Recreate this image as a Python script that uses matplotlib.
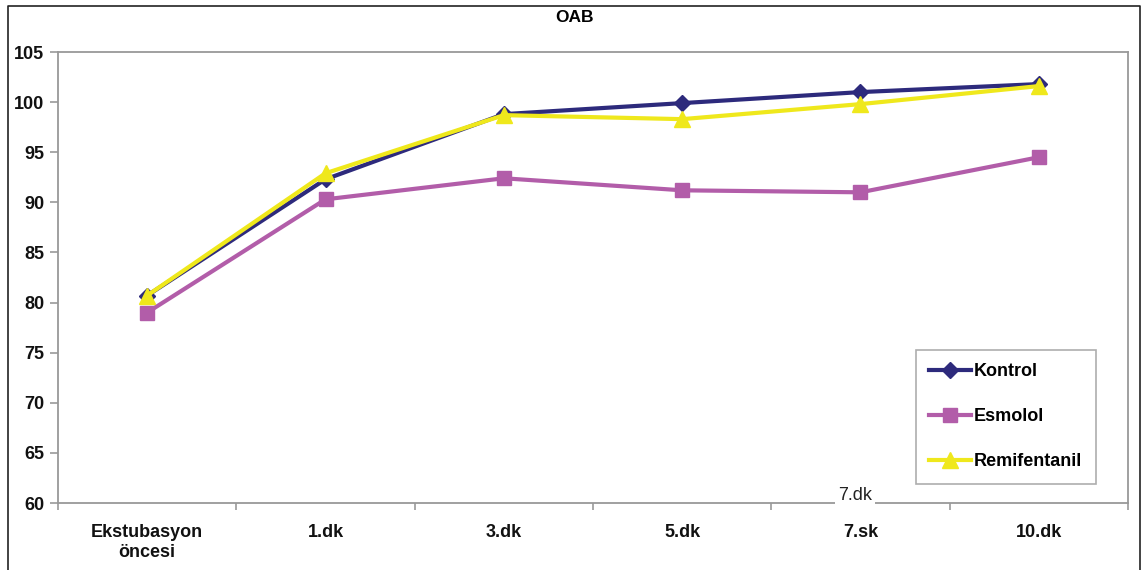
import matplotlib
matplotlib.use("Agg")
import matplotlib.pyplot as plt
from matplotlib.lines import Line2D

plt.rcParams['font.family'] = ['Liberation Sans', 'DejaVu Sans']

categories = ["Ekstubasyon\nöncesi", "1.dk", "3.dk", "5.dk", "7.sk", "10.dk"]
kontrol = [80.7, 92.3, 98.8, 99.9, 101.0, 101.8]
esmolol = [79.0, 90.3, 92.4, 91.2, 91.0, 94.5]
remifentanil = [80.7, 92.9, 98.7, 98.3, 99.8, 101.6]
y_ticks = [60, 65, 70, 75, 80, 85, 90, 95, 100, 105]

W, H = 1147, 570
fig = plt.figure(figsize=(W / 100, H / 100), dpi=100)
ax = fig.add_axes([58 / W, 1 - 503 / H, (1128 - 58) / W, (503 - 52) / H])

x = list(range(len(categories)))
ax.plot(x, kontrol, color="#2D2A7C", lw=3, marker="D", ms=8.5, label="Kontrol", zorder=3)
ax.plot(x, esmolol, color="#B25DA9", lw=3, marker="s", ms=10, label="Esmolol", zorder=3)
ax.plot(x, remifentanil, color="#EFE81C", lw=3, marker="^", ms=11, label="Remifentanil", zorder=4)

ax.set_xlim(-0.5, len(categories) - 0.5)
ax.set_ylim(60, 105)
ax.set_yticks(y_ticks)
ax.set_yticklabels([str(v) for v in y_ticks], fontsize=13, fontweight="bold", color="#111111")
ax.set_xticks(x)
ax.set_xticklabels(categories, fontsize=13, fontweight="bold", color="#111111", linespacing=1.25)
ax.set_xticks([i + 0.5 for i in x[:-1]] + [-0.5, len(categories) - 0.5], minor=True)
ax.tick_params(axis="x", which="major", length=0, pad=15)
ax.tick_params(axis="x", which="minor", length=5, color="#999999", width=1.2)
ax.tick_params(axis="y", length=6, color="#999999", width=1.2, pad=4)

for side in ["left", "bottom", "top", "right"]:
    ax.spines[side].set_color("#999999")
    ax.spines[side].set_linewidth(1.3)

fig.text(575 / W, 1 - 18 / H, "OAB", ha="center", va="center", fontsize=12.5, fontweight="bold")

leg = ax.legend(loc="lower right", bbox_to_anchor=((1096 - 58) / (1128 - 58), (503 - 484) / (503 - 52)),
                frameon=True, fancybox=False, edgecolor="#999999",
                prop={"weight": "bold", "size": 13}, labelspacing=1.55, handlelength=2.3,
                handletextpad=0.2, borderpad=0.75, borderaxespad=0)
leg.get_frame().set_linewidth(1.2)

# Overlaid axis annotation near the 7th-minute label
fig.text(855 / W, 1 - 496 / H, "7.dk", ha="center", va="center", fontsize=13,
         color="#222222", bbox=dict(facecolor="white", edgecolor="none", pad=2.5))

# Outer frame around the figure
fx = [8 / W, 8 / W, 1140 / W, 1140 / W]
fy = [0, 1 - 6 / H, 1 - 6 / H, 0]
fig.add_artist(Line2D(fx, fy, color="#222222", lw=1.2, transform=fig.transFigure))

fig.savefig("out.png", dpi=100, facecolor="white")
